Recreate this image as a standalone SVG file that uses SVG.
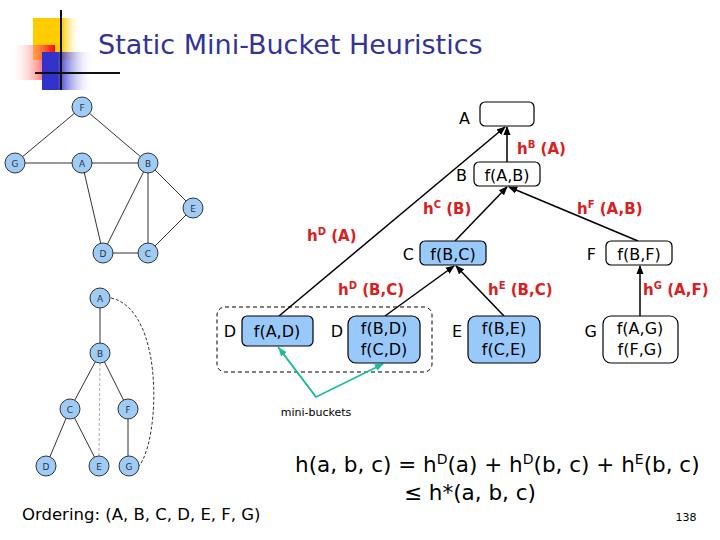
<svg xmlns="http://www.w3.org/2000/svg" width="720" height="540" viewBox="0 0 720 540">
<defs>
<linearGradient id="rg" x1="1" y1="0" x2="0" y2="0"><stop offset="0" stop-color="#f00"/><stop offset="1" stop-color="#fff" stop-opacity="0"/></linearGradient>
<linearGradient id="bg" x1="0" y1="0" x2="1" y2="0"><stop offset="0.3" stop-color="#33c"/><stop offset="1" stop-color="#fff" stop-opacity="0"/></linearGradient>
<linearGradient id="yg" x1="0" y1="0" x2="1" y2="0"><stop offset="0.6" stop-color="#fc0"/><stop offset="1" stop-color="#fff" stop-opacity="0"/></linearGradient>
<marker id="ar" viewBox="0 0 10 10" refX="9" refY="5" markerWidth="6" markerHeight="6" orient="auto"><path d="M0,1 L10,5 L0,9z" fill="#000"/></marker>
<marker id="at" viewBox="0 0 10 10" refX="9" refY="5" markerWidth="6" markerHeight="6" orient="auto"><path d="M0,1 L10,5 L0,9z" fill="#1abc9c"/></marker>
</defs>
<style>
text{font-family:"DejaVu Sans",Verdana,sans-serif}
.gn circle{fill:#9fcbf7;stroke:#333;stroke-width:1}
.gn text{font-size:9px;text-anchor:middle;fill:#333}
.ge{stroke:#333;stroke-width:1;fill:none}
.bx{stroke:#000;stroke-width:1.2}
.w{fill:#fff}.b{fill:#99c9fa}
.t{font-size:16px;text-anchor:middle}
.l{font-size:16px;text-anchor:end}
.h{font-size:15px;font-weight:bold;fill:#d92020}
.c{stroke:#000;stroke-width:1.5;fill:none;marker-end:url(#ar)}
</style>
<rect x="33" y="18" width="48" height="42" fill="url(#yg)"/>
<rect x="10" y="45" width="45" height="35" fill="url(#rg)"/>
<rect x="42" y="52" width="52" height="38" fill="url(#bg)"/>
<line x1="61" y1="10" x2="61" y2="90" stroke="#111" stroke-width="2"/>
<line x1="35" y1="73" x2="120" y2="73" stroke="#111" stroke-width="2"/>
<text x="98" y="54" font-size="27" fill="#333399">Static Mini-Bucket Heuristics</text>

<g id="graph">
<g class="ge"><line x1="82" y1="107" x2="15" y2="163"/><line x1="82" y1="107" x2="148" y2="163"/><line x1="15" y1="163" x2="148" y2="163"/><line x1="82" y1="163" x2="103" y2="253"/><line x1="148" y1="163" x2="103" y2="253"/><line x1="148" y1="163" x2="148" y2="253"/><line x1="148" y1="163" x2="193" y2="208"/><line x1="193" y1="208" x2="148" y2="253"/><line x1="103" y1="253" x2="148" y2="253"/></g>
<g class="gn"><circle cx="82" cy="107" r="10"/><text x="82" y="111">F</text><circle cx="15" cy="163" r="10"/><text x="15" y="167">G</text><circle cx="82" cy="163" r="10"/><text x="82" y="167">A</text><circle cx="148" cy="163" r="10"/><text x="148" y="167">B</text><circle cx="193" cy="208" r="10"/><text x="193" y="212">E</text><circle cx="103" cy="253" r="10"/><text x="103" y="257">D</text><circle cx="148" cy="253" r="10"/><text x="148" y="257">C</text></g>
</g>
<g id="tree">
<g class="ge"><line x1="100" y1="298" x2="100" y2="353"/><line x1="100" y1="353" x2="70" y2="409"/><line x1="100" y1="353" x2="128" y2="409"/><line x1="70" y1="409" x2="46" y2="466"/><line x1="70" y1="409" x2="99" y2="466"/><line x1="128" y1="409" x2="128" y2="466"/><line x1="100" y1="363" x2="99" y2="456" stroke="#aaa" stroke-dasharray="3,2"/><path d="M111,298 C165,310 160,440 139,466" stroke-dasharray="3,2"/></g>
<g class="gn"><circle cx="100" cy="298" r="10"/><text x="100" y="302">A</text><circle cx="100" cy="353" r="10"/><text x="100" y="357">B</text><circle cx="70" cy="409" r="10"/><text x="70" y="413">C</text><circle cx="128" cy="409" r="10"/><text x="128" y="413">F</text><circle cx="46" cy="466" r="10"/><text x="46" y="470">D</text><circle cx="99" cy="466" r="10"/><text x="99" y="470">E</text><circle cx="129" cy="466" r="10"/><text x="129" y="470">G</text></g>
</g>

<rect x="217" y="307" width="215" height="65" rx="8" fill="none" stroke="#000" stroke-dasharray="4,3"/>

<g id="connectors">
<line class="c" x1="279" y1="316" x2="505" y2="127"/>
<line class="c" x1="507" y1="162" x2="507" y2="127"/>
<line class="c" x1="455" y1="241" x2="507" y2="187"/>
<line class="c" x1="638" y1="241" x2="509" y2="187"/>
<line class="c" x1="385" y1="316" x2="454" y2="266"/>
<line class="c" x1="504" y1="316" x2="456" y2="266"/>
<line class="c" x1="640" y1="316" x2="640" y2="266"/>
<polyline points="278,347 316,397 383,364" fill="none" stroke="#1abc9c" stroke-width="1.5" marker-end="url(#at)"/>
<line x1="316" y1="397" x2="279" y2="348" stroke="#1abc9c" stroke-width="1.5" marker-end="url(#at)"/>
</g>

<g id="nA"><rect class="bx w" x="480" y="102" width="54" height="24" rx="5"/><text class="l" x="470" y="124">A</text></g>
<g id="nB"><rect class="bx w" x="474" y="162" width="66" height="24" rx="5"/><text class="l" x="467" y="181">B</text><text class="t" x="507" y="181">f(A,B)</text></g>
<g id="nC"><rect class="bx b" x="420" y="241" width="66" height="24" rx="5"/><text class="l" x="414" y="260">C</text><text class="t" x="453" y="260">f(B,C)</text></g>
<g id="nF"><rect class="bx w" x="606" y="241" width="66" height="24" rx="5"/><text class="l" x="596" y="260">F</text><text class="t" x="639" y="260">f(B,F)</text></g>
<g id="nD1"><rect class="bx b" x="242" y="316" width="71" height="30" rx="5"/><text class="l" x="236" y="337">D</text><text class="t" x="277" y="337">f(A,D)</text></g>
<g id="nD2"><rect class="bx b" x="348" y="316" width="72" height="47" rx="8"/><text class="l" x="343" y="337">D</text><text class="t" x="384" y="334">f(B,D)</text><text class="t" x="384" y="355">f(C,D)</text></g>
<g id="nE"><rect class="bx b" x="468" y="316" width="72" height="47" rx="8"/><text class="l" x="462" y="337">E</text><text class="t" x="504" y="334">f(B,E)</text><text class="t" x="504" y="355">f(C,E)</text></g>
<g id="nG"><rect class="bx w" x="603" y="316" width="75" height="47" rx="8"/><text class="l" x="597" y="337">G</text><text class="t" x="640" y="334">f(A,G)</text><text class="t" x="640" y="355">f(F,G)</text></g>

<g id="labels">
<text class="h" x="517" y="154">h<tspan font-size="10" dy="-6">B</tspan><tspan dy="6"> (A)</tspan></text>
<text class="h" x="423" y="214">h<tspan font-size="10" dy="-6">C</tspan><tspan dy="6"> (B)</tspan></text>
<text class="h" x="577" y="214">h<tspan font-size="10" dy="-6">F</tspan><tspan dy="6"> (A,B)</tspan></text>
<text class="h" x="307" y="241">h<tspan font-size="10" dy="-6">D</tspan><tspan dy="6"> (A)</tspan></text>
<text class="h" x="338" y="295">h<tspan font-size="10" dy="-6">D</tspan><tspan dy="6"> (B,C)</tspan></text>
<text class="h" x="488" y="295">h<tspan font-size="10" dy="-6">E</tspan><tspan dy="6"> (B,C)</tspan></text>
<text class="h" x="643" y="295">h<tspan font-size="10" dy="-6">G</tspan><tspan dy="6"> (A,F)</tspan></text>
<text x="316" y="416" font-size="11" text-anchor="middle">mini-buckets</text>
</g>

<text x="295" y="472" font-size="21.5">h(a, b, c) = h<tspan font-size="14" dy="-8">D</tspan><tspan dy="8">(a) + h</tspan><tspan font-size="14" dy="-8">D</tspan><tspan dy="8">(b, c) + h</tspan><tspan font-size="14" dy="-8">E</tspan><tspan dy="8">(b, c)</tspan></text>
<text x="470" y="500" font-size="21.5" text-anchor="middle">≤ h*(a, b, c)</text>
<text x="22" y="520" font-size="16.5">Ordering: (A, B, C, D, E, F, G)</text>
<text x="686" y="521" font-size="11" text-anchor="middle">138</text>
</svg>
